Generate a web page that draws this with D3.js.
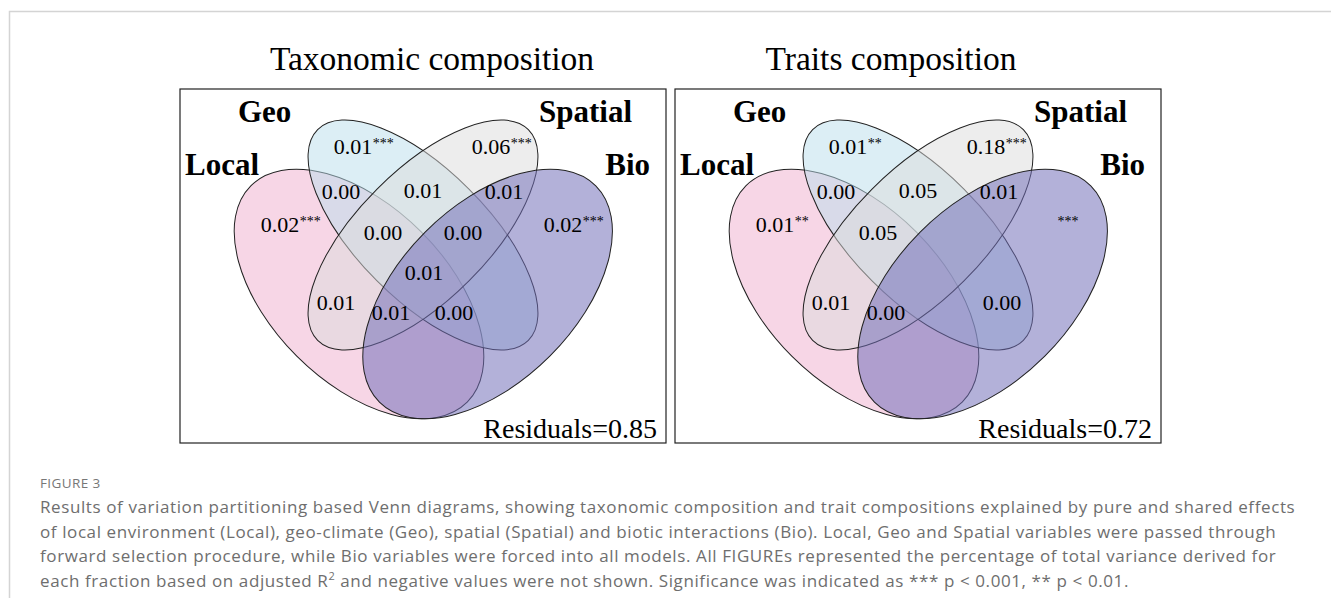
<!DOCTYPE html>
<html>
<head>
<meta charset="utf-8">
<script src="https://d3js.org/d3.v7.min.js"></script>
<style>
    body { margin: 0; background: #fff; }
    svg { display: block; }
    .title { font-family: "Liberation Serif", "Times New Roman", serif; font-size: 33.5px; fill: #000; }
    .setname { font-family: "Liberation Serif", "Times New Roman", serif; font-size: 31px; font-weight: bold; fill: #000; }
    .val { font-family: "Liberation Serif", "Times New Roman", serif; font-size: 22px; fill: #000; }
    .resid { font-family: "Liberation Serif", "Times New Roman", serif; font-size: 28px; fill: #000; }
    .frame { fill: none; stroke: #222; stroke-width: 1.2; }
    .cap { font-family: "Open Sans", sans-serif; font-size: 17px; fill: #6e6e6e; letter-spacing: 0.6px; }
    .fig { font-family: "Open Sans", sans-serif; font-size: 13.5px; fill: #777; letter-spacing: 0.4px; }
</style>
</head>
<body>
<svg id="chart"></svg>
<script>
// panels
var titles = ["Taxonomic composition", "Traits composition"];
var residuals = [0.85, 0.72];

// sets, in drawing order
var sets = ["Local", "Geo", "Spatial", "Bio"];
var setColors = ["#efadcd", "#b9ddeb", "#dcdcdc", "#736fb9"];

// venn fractions (L = Local, G = Geo, S = Spatial, B = Bio)
var regions = ["L", "G", "S", "B", "LG", "GS", "SB", "LGS", "GSB", "LGSB", "LS", "LSB", "LGB", "GB"];
var taxValues = [0.02, 0.01, 0.06, 0.02, 0.00, 0.01, 0.01, 0.00, 0.00, 0.01, 0.01, 0.01, 0.00, null];
var taxSig = ["***", "***", "***", "***", "", "", "", "", "", "", "", "", "", ""];
var traitValues = [0.01, 0.01, 0.18, null, 0.00, 0.05, 0.01, 0.05, null, null, 0.01, 0.00, null, 0.00];
var traitSig = ["**", "**", "***", "***", "", "", "", "", "", "", "", "", "", ""];

var captionHead = "FIGURE 3";
var captionLines = [
    "Results of variation partitioning based Venn diagrams, showing taxonomic composition and trait compositions explained by pure and shared effects",
    "of local environment (Local), geo-climate (Geo), spatial (Spatial) and biotic interactions (Bio). Local, Geo and Spatial variables were passed through",
    "forward selection procedure, while Bio variables were forced into all models. All FIGUREs represented the percentage of total variance derived for",
    "each fraction based on adjusted R|2| and negative values were not shown. Significance was indicated as *** p < 0.001, ** p < 0.01."
];

var W = 1331, H = 598;
var panelW = 486, panelH = 354;
var panelX = [180, 675], panelY = 89;
var titleCx = [432, 891];

// ellipse geometry in panel units
var ellipses = {
    Local:   {cx: 179, cy: 205, rx: 153, ry: 88, rot: 45},
    Geo:     {cx: 243, cy: 146, rx: 149, ry: 65, rot: 45},
    Spatial: {cx: 243, cy: 146, rx: 149, ry: 65, rot: -45},
    Bio:     {cx: 307.6, cy: 205, rx: 153, ry: 88, rot: -45}
};
var setLabelPos = {
    Local: [5, 86, "start"], Geo: [58, 33, "start"],
    Spatial: [452, 33, "end"], Bio: [470, 86, "end"]
};
// label anchor of each fraction: centre x of the number, baseline y
var labelPos = {
    L: [100, 143], G: [173, 65], S: [311, 65], B: [383, 143],
    LG: [161, 110], GS: [243, 109], SB: [324, 110],
    LGS: [203, 151], GSB: [283, 151], LGSB: [244, 191],
    LS: [156, 221], LSB: [211, 231], LGB: [274, 231], GB: [327, 221]
};

var svg = d3.select("#chart").attr("width", W).attr("height", H);

// page card border
svg.append("path")
    .attr("d", "M9.5," + H + "V11.5H" + W)
    .attr("fill", "none").attr("stroke", "#d4d4d4").attr("stroke-width", 1.5);

var fmt = d3.format(".2f");
var panelData = [
    {values: taxValues, sig: taxSig},
    {values: traitValues, sig: traitSig}
];

panelData.forEach(function(pd, p) {
    var x = d3.scaleLinear().domain([0, panelW]).range([panelX[p], panelX[p] + panelW]);
    var y = d3.scaleLinear().domain([0, panelH]).range([panelY, panelY + panelH]);

    svg.append("text").attr("class", "title")
        .attr("x", titleCx[p]).attr("y", 70)
        .attr("text-anchor", "middle")
        .text(titles[p]);

    var g = svg.append("g");

    g.selectAll("ellipse")
        .data(sets)
        .enter().append("ellipse")
        .attr("cx", function(d) { return x(ellipses[d].cx); })
        .attr("cy", function(d) { return y(ellipses[d].cy); })
        .attr("rx", function(d) { return ellipses[d].rx; })
        .attr("ry", function(d) { return ellipses[d].ry; })
        .attr("transform", function(d) {
            return "rotate(" + ellipses[d].rot + "," + x(ellipses[d].cx) + "," + y(ellipses[d].cy) + ")";
        })
        .attr("fill", function(d, i) { return setColors[i]; })
        .attr("fill-opacity", function(d) { return d === "Bio" ? 0.54 : 0.5; })
        .attr("stroke", "#222")
        .attr("stroke-width", 1);

    g.selectAll(".setname")
        .data(sets)
        .enter().append("text")
        .attr("class", "setname")
        .attr("x", function(d) { return x(setLabelPos[d][0]); })
        .attr("y", function(d) { return y(setLabelPos[d][1]); })
        .attr("text-anchor", function(d) { return setLabelPos[d][2]; })
        .text(function(d) { return d; });

    var fr = regions.map(function(r, i) {
        return {key: r, v: pd.values[i], s: pd.sig[i]};
    }).filter(function(d) { return d.v != null || d.s; });

    fr.forEach(function(d) {
        var px = x(labelPos[d.key][0]), py = y(labelPos[d.key][1]);
        if (d.v != null) {
            var t = g.append("text").attr("class", "val")
                .attr("x", px).attr("y", py)
                .attr("text-anchor", "middle")
                .text(fmt(d.v));
            if (d.s) {
                var w = t.node().getComputedTextLength();
                g.append("text").attr("class", "val")
                    .attr("x", px + w / 2 + 0.5).attr("y", py - 6)
                    .style("font-size", "14px")
                    .text(d.s);
            }
        } else {
            g.append("text").attr("class", "val")
                .attr("x", px + 10).attr("y", py - 6)
                .attr("text-anchor", "middle")
                .style("font-size", "14px")
                .text(d.s);
        }
    });

    g.append("text").attr("class", "resid")
        .attr("x", x(477)).attr("y", y(349))
        .attr("text-anchor", "end")
        .text("Residuals=" + fmt(residuals[p]));

    g.append("rect").attr("class", "frame")
        .attr("x", x(0)).attr("y", y(0))
        .attr("width", panelW).attr("height", panelH);
});

// caption
svg.append("text").attr("class", "fig")
    .attr("x", 40).attr("y", 488)
    .text(captionHead);

svg.selectAll(".cap")
    .data(captionLines)
    .enter().append("text")
    .attr("class", "cap")
    .attr("x", 40)
    .attr("y", function(d, i) { return 513 + i * 24.7; })
    .each(function(d) {
        var parts = d.split("|");
        var el = d3.select(this);
        parts.forEach(function(s, k) {
            var ts = el.append("tspan").text(s);
            if (k === 1) ts.attr("dy", -7).style("font-size", "11px");
            if (k === 2) ts.attr("dy", 7);
        });
    });
</script>
</body>
</html>
